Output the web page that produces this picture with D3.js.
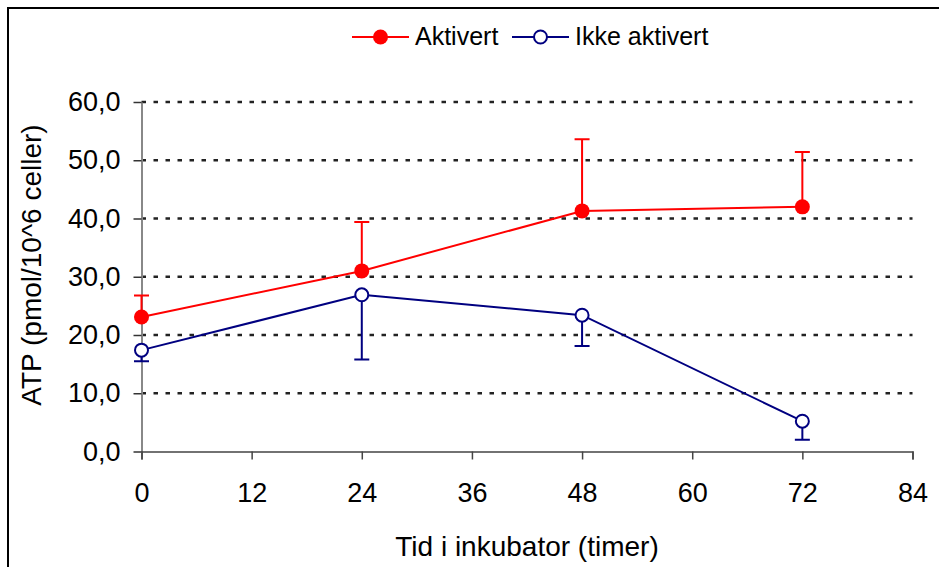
<!DOCTYPE html>
<html>
<head>
<meta charset="utf-8">
<script src="https://cdn.jsdelivr.net/npm/d3@7"></script>
<style>
  body { margin: 0; background: #fff; }
  svg { display: block; font-family: Arial, "Liberation Sans", sans-serif; }
</style>
</head>
<body>
<svg id="chart" width="939" height="567"></svg>
<script>
// data
const hours = [0, 24, 48, 72];
const aktivert = [23.1, 31.0, 41.3, 42.0];
const aktivertErr = [3.7, 8.4, 12.3, 9.4];   // drawn upward only
const ikkeAktivert = [17.4, 26.9, 23.4, 5.2];
const ikkeErr = [1.9, 11.1, 5.3, 3.2];       // drawn downward only
const xTicks = [0, 12, 24, 36, 48, 60, 72, 84];
const yTicks = [0, 10, 20, 30, 40, 50, 60];

const red = '#ff0000', navy = '#000080';
const svg = d3.select('#chart');

// outer frame (runs off the right/bottom edges like the original)
svg.append('rect')
    .attr('x', 8).attr('y', 8)
    .attr('width', 960).attr('height', 600)
    .attr('fill', 'none').attr('stroke', '#000').attr('stroke-width', 2);

const x = d3.scaleLinear().domain([0, 84]).range([141.5, 912.5]);
const y = d3.scaleLinear().domain([0, 60]).range([451.5, 102]);
const comma = d3.formatLocale({decimal: ',', thousands: '.', grouping: [3], currency: ['', '']});
const fmt = comma.format('.1f');

// dotted gridlines
svg.append('g').selectAll('line')
    .data(yTicks.filter(d => d > 0))
    .enter().append('line')
    .attr('x1', x(0)).attr('x2', x(84))
    .attr('y1', d => y(d)).attr('y2', d => y(d))
    .attr('stroke', '#222').attr('stroke-width', 2.5)
    .attr('stroke-dasharray', '4.5,7.5');

// axes
const yAxis = svg.append('g')
    .attr('transform', `translate(${x(0)},0)`)
    .call(d3.axisLeft(y).tickValues(yTicks).tickFormat(fmt).tickSize(8).tickSizeOuter(0).tickPadding(13));
yAxis.select('.domain').attr('stroke', '#888').attr('stroke-width', 2);
yAxis.selectAll('.tick line').attr('stroke', '#333').attr('stroke-width', 1.5);
yAxis.selectAll('text').style('font-size', '27px').attr('fill', '#000');

const xAxis = svg.append('g')
    .attr('transform', `translate(0,${y(0)})`)
    .call(d3.axisBottom(x).tickValues(xTicks).tickSize(8).tickSizeOuter(8).tickPadding(23));
xAxis.select('.domain').attr('stroke', '#444').attr('stroke-width', 1.5);
xAxis.selectAll('.tick line').attr('stroke', '#444').attr('stroke-width', 1.5);
xAxis.selectAll('text').style('font-size', '27px').attr('fill', '#000');

// axis titles
svg.append('text')
    .attr('x', (x(0) + x(84)) / 2).attr('y', 556)
    .attr('text-anchor', 'middle')
    .style('font-size', '28px')
    .text('Tid i inkubator (timer)');

svg.append('text')
    .attr('transform', 'translate(41,265) rotate(-90)')
    .attr('text-anchor', 'middle')
    .style('font-size', '28px')
    .text('ATP (pmol/10^6 celler)');

const line = d3.line().x(d => x(d[0])).y(d => y(d[1]));

function series(values, errs, dir, color, filled) {
  const pts = hours.map((h, i) => [h, values[i], errs[i]]);
  const g = svg.append('g');
  // error bars
  g.selectAll('.err').data(pts).enter().append('path')
      .attr('d', d => {
        const yy = y(d[1] + dir * d[2]);
        return `M${x(d[0])},${y(d[1])}V${yy}M${x(d[0]) - 7.5},${yy}H${x(d[0]) + 7.5}`;
      })
      .attr('fill', 'none').attr('stroke', color).attr('stroke-width', 2);
  g.append('path').datum(pts)
      .attr('d', line)
      .attr('fill', 'none').attr('stroke', color).attr('stroke-width', 2);
  g.selectAll('circle').data(pts).enter().append('circle')
      .attr('cx', d => x(d[0])).attr('cy', d => y(d[1]))
      .attr('r', filled ? 7.5 : 6.5)
      .attr('fill', filled ? color : '#fff')
      .attr('stroke', color).attr('stroke-width', filled ? 0 : 2);
}

series(ikkeAktivert, ikkeErr, -1, navy, false);
series(aktivert, aktivertErr, 1, red, true);

// legend
const legend = [
  {name: 'Aktivert', color: red, filled: true, x0: 352},
  {name: 'Ikke aktivert', color: navy, filled: false, x0: 512}
];
const lg = svg.append('g');
legend.forEach(l => {
  lg.append('line')
      .attr('x1', l.x0).attr('x2', l.x0 + 57)
      .attr('y1', 37).attr('y2', 37)
      .attr('stroke', l.color).attr('stroke-width', 2);
  lg.append('circle')
      .attr('cx', l.x0 + 28.5).attr('cy', 37)
      .attr('r', l.filled ? 7.5 : 6.5)
      .attr('fill', l.filled ? l.color : '#fff')
      .attr('stroke', l.color).attr('stroke-width', l.filled ? 0 : 2);
  lg.append('text')
      .attr('x', l.x0 + 63).attr('y', 45)
      .style('font-size', '25px')
      .text(l.name);
});
</script>
</body>
</html>
